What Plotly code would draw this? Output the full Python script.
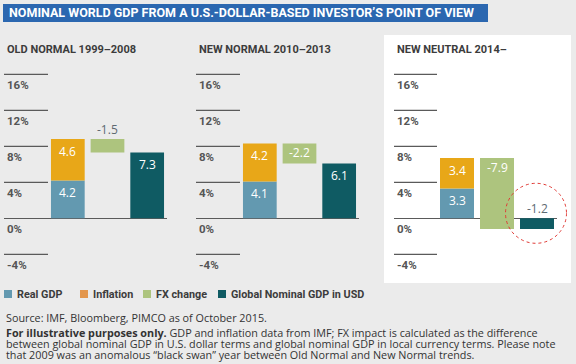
import plotly.graph_objects as go

# ---------------- data ----------------
panels = ["OLD NORMAL 1999–2008", "NEW NORMAL 2010–2013", "NEW NEUTRAL 2014–"]
series = ["Real GDP", "Inflation", "FX change", "Global Nominal GDP in USD"]
real_gdp = [4.2, 4.1, 3.3]
inflation = [4.6, 4.2, 3.4]
fx_change = [-1.5, -2.2, -7.9]
global_usd = [7.3, 6.1, -1.2]
tick_vals = [-4, 0, 4, 8, 12, 16]
tick_text = ["-4%", "0%", "4%", "8%", "12%", "16%"]
bar_slots = ["growth", "fx", "global"]

title = "NOMINAL WORLD GDP FROM A U.S.-DOLLAR-BASED INVESTOR’S POINT OF VIEW"
source = "Source: IMF, Bloomberg, PIMCO as of October 2015."
notes = [
    "<b>For illustrative purposes only.</b> GDP and inflation data from IMF; FX impact is calculated as the difference",
    "between global nominal GDP in U.S. dollar terms and global nominal GDP in local currency terms. Please note",
    "that 2009 was an anomalous “black swan” year between Old Normal and New Normal trends.",
]

# ---------------- style ----------------
W, H = 576, 364
BG = "#ebebeb"
C_REAL = "#6399b0"
C_INFL = "#e8a718"
C_INFL_LEG = "#e3964c"
C_FX = "#adc47e"
C_GLOB = "#0f5b63"
GRID = "#5a5a5a"
COND = "Roboto, Liberation Sans, sans-serif"
BODY = "Open Sans, Noto Sans, sans-serif"
TXT = "#3c3c3c"

def px(x):
    return x / W

def py(y):
    return 1 - y / H

YR = [-6, 18]
ydom = [py(272.3), py(56.3)]
PXU = 9.0  # pixels per percentage point

def y_to_paper(v):
    # same linear mapping the y axes use (range YR over domain ydom)
    return ydom[0] + (v - YR[0]) / (YR[1] - YR[0]) * (ydom[1] - ydom[0])

# panel pixel layout: [left of reference lines, end of lines / start of bar area, end of bar area]
panel_px = [(4, 48, 167), (196, 240, 359), (394, 437, 557)]
title_x = [5, 197, 395]

fig = go.Figure()
layout = dict(
    width=W, height=H,
    margin=dict(l=0, r=0, t=0, b=0),
    paper_bgcolor=BG, plot_bgcolor="rgba(0,0,0,0)",
    showlegend=False, barmode="overlay",
)

shapes = []
annotations = []

# white background for third panel
shapes.append(dict(type="rect", xref="paper", yref="paper", x0=px(384), x1=px(571),
                   y0=py(283), y1=py(35), fillcolor="white", line_width=0, layer="below"))
# title bar
shapes.append(dict(type="rect", xref="paper", yref="paper", x0=px(3), x1=px(488),
                   y0=py(22), y1=py(4), fillcolor="#2b67b0", line_width=0, layer="below"))
annotations.append(dict(text=f"<b>{title}</b>", xref="paper", yref="paper", x=px(7), y=py(13),
                        xanchor="left", yanchor="middle", showarrow=False,
                        font=dict(family=COND, size=12.5, color="white")))

for i in range(3):
    n = i + 1
    bx = "x" if n == 1 else f"x{n}"
    by = "y" if n == 1 else f"y{n}"
    l, m, r = panel_px[i]
    unit = (r - m) / 3.0
    left = -0.5 - (m - l) / unit
    layout["xaxis" if n == 1 else f"xaxis{n}"] = dict(
        domain=[px(l), px(r)], range=[left, 2.5], anchor=by,
        type="category", categoryarray=bar_slots, categoryorder="array",
        showgrid=False, zeroline=False, showticklabels=False, fixedrange=True)
    layout["yaxis" if n == 1 else f"yaxis{n}"] = dict(
        domain=ydom, range=YR, anchor=bx, showgrid=False, showticklabels=False,
        zeroline=True, zerolinecolor=GRID, zerolinewidth=1.3,
        ticks="", showline=False, fixedrange=True)

    # short reference lines + labels at the left of each panel
    for tv, tt in zip(tick_vals, tick_text):
        if tv != 0:
            shapes.append(dict(type="line", xref="paper", yref="paper",
                               x0=px(l), x1=px(m), y0=y_to_paper(tv), y1=y_to_paper(tv),
                               line=dict(color=GRID, width=1.3)))
        annotations.append(dict(text=f"<b>{tt}</b>", xref="paper", yref=by,
                                x=px(l + 1), y=tv,
                                xanchor="left", yanchor="middle", yshift=-11,
                                showarrow=False,
                                font=dict(family=COND, size=11.5, color="#555555")))

    top = real_gdp[i] + inflation[i]
    bars = [
        (bar_slots[0], real_gdp[i], 0, C_REAL),
        (bar_slots[0], inflation[i], real_gdp[i], C_INFL),
        (bar_slots[1], fx_change[i], top, C_FX),
        (bar_slots[2], global_usd[i], 0, C_GLOB),
    ]
    for slot, val, base, col in bars:
        fig.add_trace(go.Bar(x=[slot], y=[val], base=[base], width=0.85,
                             marker=dict(color=col, line=dict(width=0)),
                             xaxis=bx, yaxis=by, hoverinfo="skip"))
        hi = max(base, base + val)
        if abs(val) * PXU >= 16:
            annotations.append(dict(text=f"{val:.1f}", xref=bx, yref=by, x=slot, y=hi,
                                    yshift=-12 if slot != "fx" else -9,
                                    yanchor="middle", showarrow=False,
                                    font=dict(family=BODY, size=12, color="white")))
        else:
            annotations.append(dict(text=f"{val:.1f}", xref=bx, yref=by, x=slot, y=hi,
                                    yshift=10, yanchor="middle", showarrow=False,
                                    font=dict(family=BODY, size=12, color="#5e6a72")))

    annotations.append(dict(text=f"<b>{panels[i]}</b>", xref="paper", yref="paper",
                            x=px(title_x[i]), y=py(50), xanchor="left", yanchor="middle",
                            showarrow=False, font=dict(family=COND, size=11, color=TXT)))

# dashed highlight circle
shapes.append(dict(type="circle", xref="paper", yref="paper",
                   x0=px(536 - 30.5), x1=px(536 + 30.5), y0=py(213.3 + 30), y1=py(213.3 - 30),
                   line=dict(color="#e03a35", width=1, dash="dot")))

# legend
leg_sq = [4, 80, 143, 218]
leg_cols = [C_REAL, C_INFL_LEG, C_FX, C_GLOB]
for xs, col, name in zip(leg_sq, leg_cols, series):
    shapes.append(dict(type="rect", xref="paper", yref="paper", x0=px(xs), x1=px(xs + 8),
                       y0=py(298), y1=py(290), fillcolor=col, line_width=0))
    annotations.append(dict(text=f"<b>{name}</b>", xref="paper", yref="paper", x=px(xs + 11),
                            y=py(294), xanchor="left", yanchor="middle", showarrow=False,
                            font=dict(family=COND, size=10.8, color=TXT)))

# footer
annotations.append(dict(text=source, xref="paper", yref="paper", x=px(4), y=py(317.3),
                        xanchor="left", yanchor="middle", showarrow=False,
                        font=dict(family=BODY, size=10.8, color="#333333")))
for k, line in enumerate(notes):
    annotations.append(dict(text=line, xref="paper", yref="paper", x=px(4), y=py(332.7 + 10.8 * k),
                            xanchor="left", yanchor="middle", showarrow=False,
                            font=dict(family=BODY, size=10.8, color="#333333")))

layout["shapes"] = shapes
layout["annotations"] = annotations
fig.update_layout(**layout)
fig.write_html("out.html", config={"displayModeBar": False},
               post_script="document.body.style.margin='0';document.body.style.padding='0';")
